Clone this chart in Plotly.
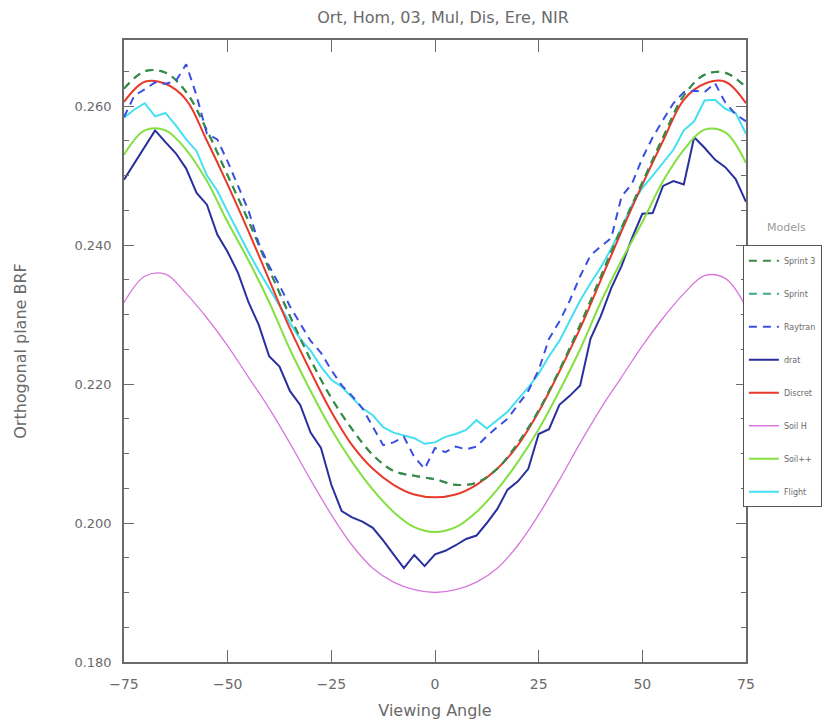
import plotly.graph_objects as go

# ---- data ----
x5 = [-75, -70, -65, -60, -55, -50, -45, -40, -35, -30, -25, -20, -15, -10, -5, 0,
      5, 10, 15, 20, 25, 30, 35, 40, 45, 50, 55, 60, 65, 70, 75]
x25 = [-75 + 2.5 * i for i in range(61)]

sprint3 = [0.2625, 0.2650, 0.2648, 0.2620, 0.2565, 0.2500, 0.2435, 0.2365, 0.2298, 0.2235,
           0.2180, 0.2135, 0.2098, 0.2075, 0.2068, 0.2063, 0.2055, 0.2058, 0.2078, 0.2115,
           0.2162, 0.2220, 0.2285, 0.2355, 0.2425, 0.2490, 0.2555, 0.2615, 0.2645, 0.2648, 0.2627]
sprint = sprint3[:]

discret = [0.2606, 0.2635, 0.2632, 0.2609, 0.2550, 0.2487, 0.2420, 0.2350, 0.2280, 0.2218,
           0.2160, 0.2112, 0.2078, 0.2055, 0.2041, 0.2037, 0.2041, 0.2055, 0.2078, 0.2112,
           0.2160, 0.2218, 0.2280, 0.2350, 0.2420, 0.2487, 0.2550, 0.2609, 0.2632, 0.2635, 0.2604]

soil_h = [0.2317, 0.2355, 0.2358, 0.2330, 0.2295, 0.2255, 0.2210, 0.2165, 0.2115, 0.2062,
          0.2012, 0.1968, 0.1935, 0.1915, 0.1904, 0.1900, 0.1904, 0.1915, 0.1935, 0.1968,
          0.2012, 0.2062, 0.2115, 0.2165, 0.2210, 0.2255, 0.2295, 0.2330, 0.2356, 0.2352, 0.2311]

soil_pp = [0.2530, 0.2565, 0.2565, 0.2537, 0.2492, 0.2433, 0.2378, 0.2318, 0.2250, 0.2190,
           0.2135, 0.2088, 0.2048, 0.2016, 0.1994, 0.1987, 0.1994, 0.2016, 0.2048, 0.2088,
           0.2135, 0.2190, 0.2250, 0.2318, 0.2378, 0.2433, 0.2492, 0.2537, 0.2566, 0.2562, 0.2518]

drat = [0.2494, 0.2518, 0.2540, 0.2565, 0.2548, 0.2532, 0.2510, 0.2475, 0.2458, 0.2415,
        0.2390, 0.2360, 0.2318, 0.2285, 0.2240, 0.2225, 0.2190, 0.2170, 0.2130, 0.2108,
        0.2055, 0.2017, 0.2008, 0.2002, 0.1993, 0.1975, 0.1955, 0.1935, 0.1954, 0.1938,
        0.1955, 0.1960, 0.1968, 0.1977, 0.1982, 0.2000, 0.2020, 0.2048, 0.2060, 0.2078,
        0.2128, 0.2135, 0.2170, 0.2183, 0.2198, 0.2265, 0.2298, 0.2338, 0.2370, 0.2410,
        0.2445, 0.2446, 0.2485, 0.2492, 0.2487, 0.2555, 0.2540, 0.2523, 0.2512, 0.2495, 0.2462]

flight = [0.2583, 0.2595, 0.2604, 0.2585, 0.2590, 0.2572, 0.2552, 0.2535, 0.2500, 0.2478,
          0.2448, 0.2418, 0.2390, 0.2363, 0.2338, 0.2311, 0.2288, 0.2265, 0.2248, 0.2225,
          0.2206, 0.2196, 0.2180, 0.2165, 0.2155, 0.2138, 0.2130, 0.2126, 0.2122, 0.2114,
          0.2116, 0.2124, 0.2128, 0.2134, 0.2148, 0.2136, 0.2148, 0.2160, 0.2178, 0.2195,
          0.2215, 0.2240, 0.2262, 0.2290, 0.2320, 0.2345, 0.2368, 0.2395, 0.2425, 0.2458,
          0.2482, 0.2500, 0.2518, 0.2537, 0.2565, 0.2578, 0.2608, 0.2609, 0.2596, 0.2590, 0.2560]

raytran = [0.2584, 0.2615, 0.2624, 0.2634, 0.2632, 0.2636, 0.2660, 0.2615, 0.2560, 0.2552,
           0.2520, 0.2485, 0.2450, 0.2402, 0.2370, 0.2342, 0.2312, 0.2287, 0.2262, 0.2245,
           0.2220, 0.2198, 0.2183, 0.2165, 0.2138, 0.2112, 0.2116, 0.2124, 0.2095, 0.2078,
           0.2108, 0.2102, 0.2110, 0.2106, 0.2110, 0.2125, 0.2138, 0.2150, 0.2170, 0.2190,
           0.2220, 0.2265, 0.2290, 0.2320, 0.2355, 0.2385, 0.2398, 0.2410, 0.2470, 0.2488,
           0.2525, 0.2555, 0.2580, 0.2604, 0.2620, 0.2622, 0.2620, 0.2633, 0.2605, 0.2588, 0.2578]

x_ticks = [-75, -50, -25, 0, 25, 50, 75]
y_ticks = [0.180, 0.200, 0.220, 0.240, 0.260]

grey = "#6a6a6a"
font_family = "DejaVu Sans, Liberation Sans, sans-serif"

series = [
    ("Sprint 3", x5, sprint3, "#3a8a45", "8px,6px", 2.0, "spline"),
    ("Sprint", x5, sprint, "#3aa88a", "8px,6px", 2.0, "spline"),
    ("Raytran", x25, raytran, "#3a4fe0", "8px,6px", 2.0, "linear"),
    ("drat", x25, drat, "#2a2f9e", "solid", 2.0, "linear"),
    ("Discret", x5, discret, "#e8392a", "solid", 2.0, "spline"),
    ("Soil H", x5, soil_h, "#d778dc", "solid", 1.3, "spline"),
    ("Soil++", x5, soil_pp, "#84e040", "solid", 2.0, "spline"),
    ("Flight", x25, flight, "#45dff2", "solid", 2.0, "linear"),
]
# draw order: put Sprint underneath
draw_order = [1, 5, 3, 6, 7, 4, 0, 2]

fig = go.Figure()
for i in draw_order:
    name, xs, ys, col, dash, w, shape = series[i]
    fig.add_trace(go.Scatter(x=xs, y=ys, mode="lines", name=name,
                             line=dict(color=col, dash=dash, width=w, shape=shape),
                             legendgroup=name, legendrank=i + 1))

fig.update_layout(
    width=835, height=723,
    margin=dict(l=116, r=97, t=32, b=69, autoexpand=False),
    paper_bgcolor="white", plot_bgcolor="white",
    font=dict(family=font_family, color=grey, size=13),
    title=dict(text="Ort, Hom, 03, Mul, Dis, Ere, NIR", x=0.521, xanchor="center",
               y=1.0, yanchor="top", pad=dict(t=4),
               font=dict(size=16, color=grey)),
    showlegend=True,
    legend=dict(x=0.995, xanchor="left", y=0.670, yanchor="top",
                bordercolor="#555555", borderwidth=1, bgcolor="white",
                font=dict(size=8, color=grey), tracegroupgap=14,
                itemwidth=30),
    annotations=[dict(text="Models", xref="paper", yref="paper", x=1.03, y=0.698,
                      xanchor="left", yanchor="middle", showarrow=False,
                      font=dict(size=11, color="#9a9a9a"))],
)
fig.update_xaxes(range=[-75, 75], tickvals=x_ticks, ticktext=[str(v).replace("-", "−") for v in x_ticks],
                 ticks="inside", ticklen=12, tickcolor=grey, showline=True, linecolor=grey,
                 linewidth=1.5, mirror="allticks", showgrid=False, zeroline=False,
                 automargin=False, ticklabelstandoff=8,
                 tickfont=dict(size=14),
                 title=dict(text="Viewing Angle", standoff=14, font=dict(size=16)))
fig.update_yaxes(range=[0.180, 0.2695], tickvals=y_ticks, ticktext=["%.3f" % v for v in y_ticks],
                 ticks="inside", ticklen=10, tickcolor=grey, showline=True, linecolor=grey,
                 linewidth=1.5, mirror="allticks", showgrid=False, zeroline=False,
                 automargin=False, ticklabelstandoff=8,
                 minor=dict(dtick=0.005, tick0=0.18, ticks="inside", ticklen=5, tickcolor=grey),
                 tickfont=dict(size=13),
                 title=dict(text="Orthogonal plane BRF", standoff=44, font=dict(size=16)))

fig.write_html("out.html")
